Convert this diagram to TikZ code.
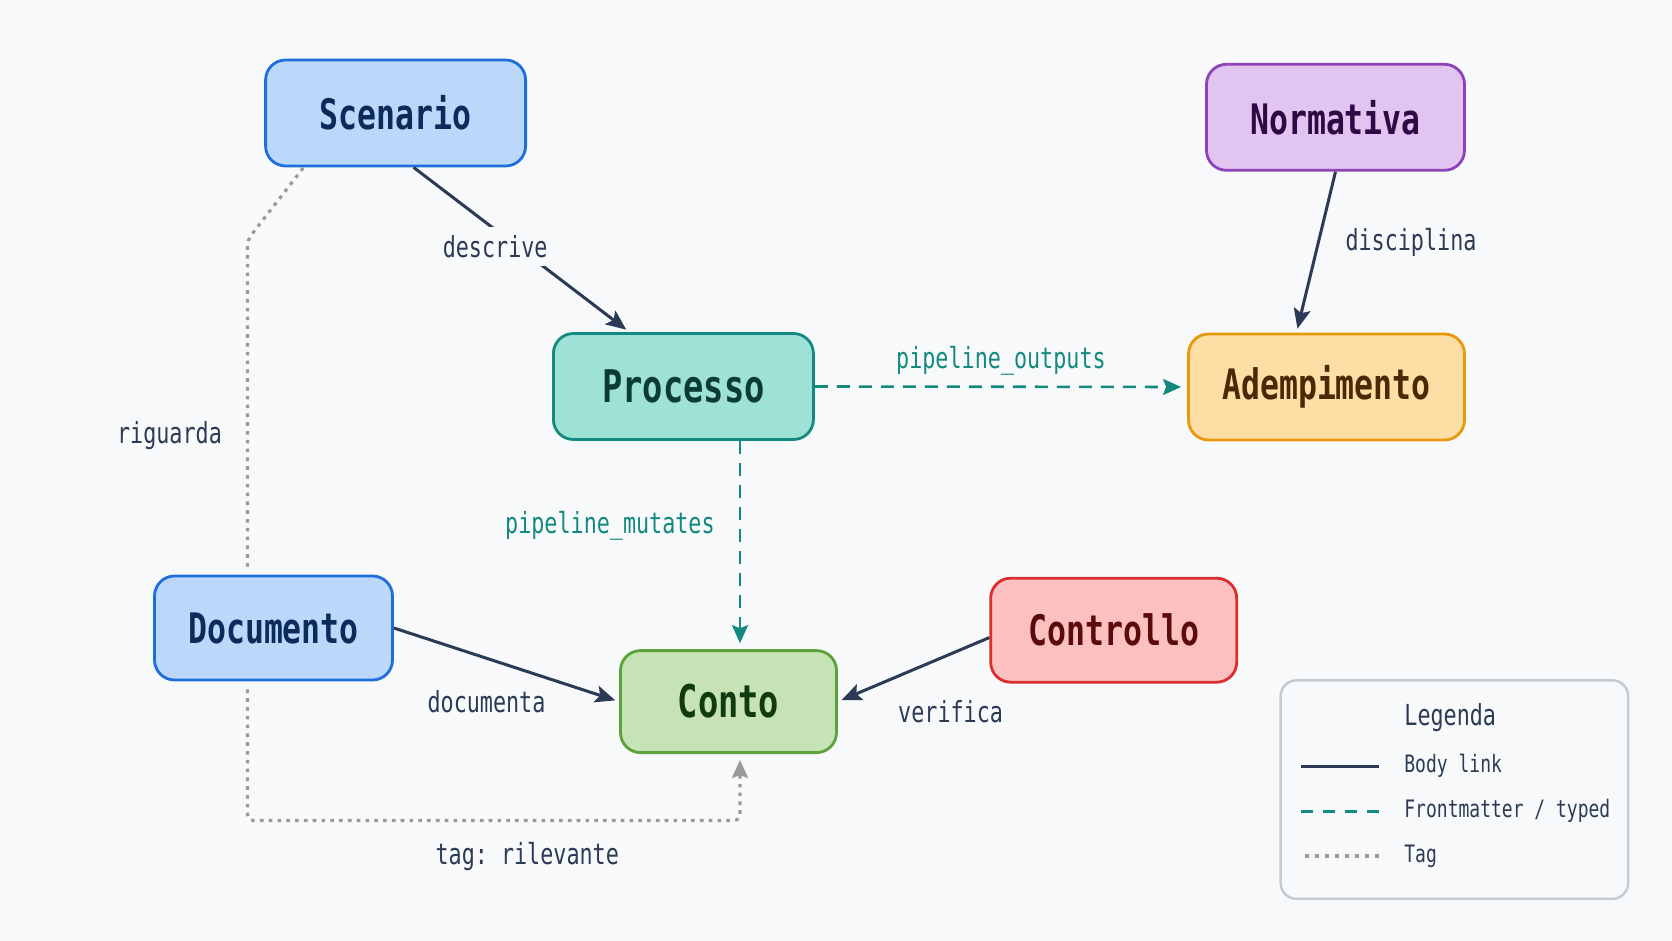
\documentclass[tikz,border=0pt]{standalone}
\usepackage{fontspec}
\setmonofont{DejaVu Sans Mono}[FakeStretch=0.75]
\usetikzlibrary{arrows.meta,positioning,calc}
\definecolor{bgc}{HTML}{F8F9FA}
\definecolor{bluF}{HTML}{BBD8FB}
\definecolor{bluD}{HTML}{1E6FD9}
\definecolor{bluT}{HTML}{0B2B5B}
\definecolor{tealF}{HTML}{9EE1D7}
\definecolor{tealD}{HTML}{138B80}
\definecolor{tealT}{HTML}{0B3B37}
\definecolor{oraF}{HTML}{FDDFA5}
\definecolor{oraD}{HTML}{E8980E}
\definecolor{oraT}{HTML}{4A2A06}
\definecolor{purF}{HTML}{E2C4F1}
\definecolor{purD}{HTML}{8E44B8}
\definecolor{purT}{HTML}{2C0B45}
\definecolor{grnF}{HTML}{C5E3B4}
\definecolor{grnD}{HTML}{5DA13A}
\definecolor{grnT}{HTML}{103A10}
\definecolor{redF}{HTML}{FDC0C0}
\definecolor{redD}{HTML}{D9302F}
\definecolor{redT}{HTML}{5C0B0B}
\definecolor{edgec}{HTML}{2B3A55}
\definecolor{typedc}{HTML}{14897F}
\definecolor{tagc}{HTML}{9A9A9A}
\definecolor{legc}{HTML}{C3CAD2}

\begin{document}
\begin{tikzpicture}[
  x=0.5pt, y=-0.5pt,
  font=\ttfamily,
  >={Stealth[length=10pt, width=8.5pt, inset=2pt]},
  box/.style={rectangle, rounded corners=10pt, line width=1.4pt, align=center,
              minimum height=53pt, font=\ttfamily\bfseries\fontsize{21}{24}\selectfont},
  blu/.style={box, draw=bluD, fill=bluF, text=bluT},
  tea/.style={box, draw=tealD, fill=tealF, text=tealT},
  ora/.style={box, draw=oraD, fill=oraF, text=oraT},
  pur/.style={box, draw=purD, fill=purF, text=purT},
  grn/.style={box, draw=grnD, fill=grnF, text=grnT},
  rdd/.style={box, draw=redD, fill=redF, text=redT},
  body/.style={->, line width=1.5pt, draw=edgec, shorten >=2pt},
  typed/.style={->, line width=1.3pt, draw=typedc, dash pattern=on 6.5pt off 4.5pt,
                >={Stealth[length=9pt, width=8pt, inset=1.5pt]}, shorten >=3pt},
  tag/.style={line width=1.6pt, draw=tagc, dash pattern=on 1.8pt off 2.6pt, rounded corners=3pt},
  lbl/.style={font=\ttfamily\fontsize{14.5}{17}\selectfont, text=edgec, inner sep=2pt},
  tlbl/.style={lbl, text=typedc},
  leg/.style={font=\ttfamily\fontsize{12}{14}\selectfont, text=edgec, inner sep=0pt, anchor=west},
]

\fill[bgc] (0,0) rectangle (1672,941);

\node[blu, minimum width=130pt] (scen) at (395.6,113)   {Scenario};
\node[pur, minimum width=129pt] (norm) at (1335.5,117.3) {Normativa};
\node[tea, minimum width=130pt, font=\ttfamily\bfseries\fontsize{22.5}{26}\selectfont] (proc) at (683.4,386.5) {Processo};
\node[ora, minimum width=138pt] (adem) at (1326.5,387)  {Adempimento};
\node[blu, minimum width=119pt, minimum height=52pt] (docu) at (273.5,628) {Documento};
\node[grn, minimum width=108pt, minimum height=51pt, font=\ttfamily\bfseries\fontsize{22.5}{26}\selectfont] (cont) at (728.5,701.6) {Conto};
\node[rdd, minimum width=123pt, minimum height=52pt] (ctrl) at (1113.7,630.2) {Controllo};

\coordinate (rgbend) at (247.4,240);

\draw[body] ([xshift=9pt]scen.south) -- node[lbl, pos=0.48, xshift=-11pt, fill=bgc, inner sep=4pt]{descrive} ([xshift=-27pt]proc.north);
\draw[body] (norm.south) -- node[lbl, midway, right=12pt, yshift=5pt]{disciplina} ([xshift=-15pt]adem.north);
\draw[typed] (proc.east) -- node[tlbl, midway, above=3pt]{pipeline\_outputs} (adem.west);
\draw[typed] ([xshift=28.3pt]proc.south) -- node[tlbl, midway, left=10pt, yshift=9.5pt]{pipeline\_mutates} ([xshift=28.3pt]proc.south |- cont.north);
\draw[body] (docu.east) -- node[lbl, midway, xshift=-10pt, yshift=-18.5pt]{documenta} (cont.west);
\draw[body] ([yshift=-3.7pt]ctrl.west) -- node[lbl, midway, xshift=18.5pt, yshift=-21pt]{verifica} (cont.east);

\draw[tag, shorten <=4pt] ([xshift=-13pt]docu.north) -- node[lbl, pos=0.414, left=10pt]{riguarda} (rgbend) -- ([xshift=-46pt]scen.south);
\draw[tag, ->, >={Stealth[length=9pt, width=8pt, inset=1.5pt]}, shorten <=4pt, shorten >=3pt]
  ([xshift=-13pt]docu.south) -- ++(0,-69.5pt) -| node[lbl, pos=0.284, below=8pt]{tag: rilevante} ([xshift=28.3pt]proc.south |- cont.south);

\node[draw=legc, line width=1.2pt, rounded corners=8pt, minimum width=173.8pt, minimum height=109.3pt] (legbox) at (1454.4,789.6) {};
\node[leg, font=\ttfamily\fontsize{14.5}{17}\selectfont] (legt) at (1404,718) {Legenda};
\node[leg] (leg1) at (1404,766) {Body link};
\node[leg] (leg2) at (1404,811) {Frontmatter / typed};
\node[leg] (leg3) at (1404,856) {Tag};
\draw[line width=1.5pt, draw=edgec] ([xshift=-12.5pt]leg1.west) -- ++(-39pt,0);
\draw[line width=1.5pt, draw=typedc, dash pattern=on 6pt off 5pt] ([xshift=-12.5pt]leg2.west) -- ++(-39pt,0);
\draw[line width=2pt, draw=tagc, dash pattern=on 2pt off 3pt] ([xshift=-12.5pt]leg3.west) -- ++(-39pt,0);

\end{tikzpicture}
\end{document}
